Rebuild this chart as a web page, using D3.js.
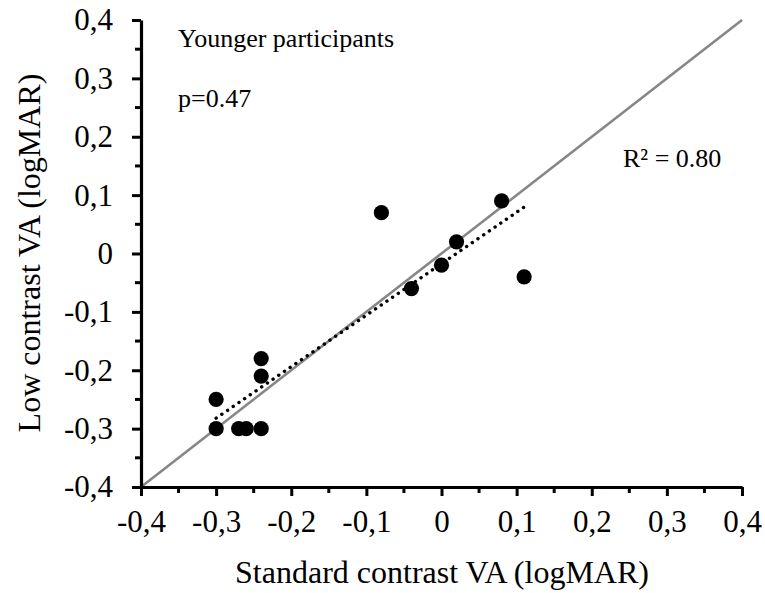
<!DOCTYPE html>
<html>
<head>
<meta charset="utf-8">
<script src="https://cdn.jsdelivr.net/npm/d3@7"></script>
<style>
  html, body { margin: 0; padding: 0; background: #fff; }
  svg { display: block; }
  text { font-family: "Liberation Serif", "Times New Roman", serif; fill: #000; }
</style>
</head>
<body>
<svg id="chart" width="765" height="593"></svg>
<script>
// Standard vs. low contrast visual acuity (logMAR), younger participants
const standardVA = [-0.30, -0.30, -0.27, -0.26, -0.24, -0.24, -0.24, -0.08, -0.04, 0.00, 0.02, 0.08, 0.11];
const lowVA      = [-0.25, -0.30, -0.30, -0.30, -0.30, -0.18, -0.21, 0.07, -0.06, -0.02, 0.02, 0.09, -0.04];
const majorTicks = [-0.4, -0.3, -0.2, -0.1, 0, 0.1, 0.2, 0.3, 0.4];
const minorTicks = [-0.35, -0.25, -0.15, -0.05, 0.05, 0.15, 0.25, 0.35];
const axisDomain = [-0.4, 0.4];
const groupLabel = "Younger participants";
const pLabel = "p=0.47";
const r2Label = "R² = 0.80";
const xTitle = "Standard contrast VA (logMAR)";
const yTitle = "Low contrast VA (logMAR)";

const svg = d3.select("#chart");
const x = d3.scaleLinear().domain(axisDomain).range([141, 742]);
const y = d3.scaleLinear().domain(axisDomain).range([487, 20]);

const locale = d3.formatLocale({ decimal: ",", thousands: ".", grouping: [3], currency: ["", ""], minus: "-" });
const fmt = d => (Math.abs(d) < 1e-9 ? "0" : locale.format(".1f")(d));

// identity line
const line = d3.line().x(d => x(d)).y(d => y(d));
svg.append("path")
  .datum(axisDomain)
  .attr("d", line)
  .attr("fill", "none")
  .attr("stroke", "#878787")
  .attr("stroke-width", 2.6);

// least-squares trend line over the observed range
const pts = standardVA.map((v, i) => [v, lowVA[i]]);
const mx = d3.mean(standardVA), my = d3.mean(lowVA);
const sxy = d3.sum(pts, p => (p[0] - mx) * (p[1] - my));
const sxx = d3.sum(pts, p => (p[0] - mx) ** 2);
const slope = sxy / sxx, icpt = my - slope * mx;
const xr = d3.extent(standardVA);
svg.append("path")
  .datum(xr.map(v => [v, slope * v + icpt]))
  .attr("d", d3.line().x(d => x(d[0])).y(d => y(d[1])))
  .attr("fill", "none")
  .attr("stroke", "#000")
  .attr("stroke-width", 3.4)
  .attr("stroke-linecap", "round")
  .attr("stroke-dasharray", "0.1 6.8");

// points
svg.append("g").selectAll("circle")
  .data(pts)
  .join("circle")
  .attr("cx", d => x(d[0]))
  .attr("cy", d => y(d[1]))
  .attr("r", 7.6)
  .attr("fill", "#000");

// axes
const xAxis = svg.append("g").attr("transform", "translate(0,487)");
xAxis.call(d3.axisBottom(x).tickValues(majorTicks).tickFormat(fmt).tickSize(9).tickSizeOuter(0).tickPadding(14));
const yAxis = svg.append("g").attr("transform", "translate(141,0)");
yAxis.call(d3.axisLeft(y).tickValues(majorTicks).tickFormat(fmt).tickSize(9).tickSizeOuter(0).tickPadding(19));

xAxis.append("g").selectAll("line").data(minorTicks).join("line")
  .attr("x1", d => x(d)).attr("x2", d => x(d)).attr("y1", 0).attr("y2", 6);
yAxis.append("g").selectAll("line").data(minorTicks).join("line")
  .attr("y1", d => y(d)).attr("y2", d => y(d)).attr("x1", 0).attr("x2", -6);

[xAxis, yAxis].forEach(g => {
  g.select(".domain").attr("stroke", "#000").attr("stroke-width", 3.2);
  g.selectAll("line").attr("stroke", "#000").attr("stroke-width", 3);
  g.selectAll("text").style("font-family", '"Liberation Serif", serif').style("font-size", "31px").attr("fill", "#000");
});
xAxis.selectAll(".tick text").attr("dy", "0.71em");

// annotations
const note = svg.append("g").style("font-size", "26px");
note.append("text").attr("x", 178).attr("y", 47).text(groupLabel);
note.append("text").attr("x", 178).attr("y", 107).text(pLabel);
note.append("text").attr("x", 623).attr("y", 167).text(r2Label);

// axis titles
svg.append("text")
  .attr("x", 442).attr("y", 583)
  .attr("text-anchor", "middle")
  .style("font-size", "32px")
  .text(xTitle);
svg.append("text")
  .attr("transform", "translate(40,253) rotate(-90)")
  .attr("text-anchor", "middle")
  .style("font-size", "32px")
  .text(yTitle);
</script>
</body>
</html>
